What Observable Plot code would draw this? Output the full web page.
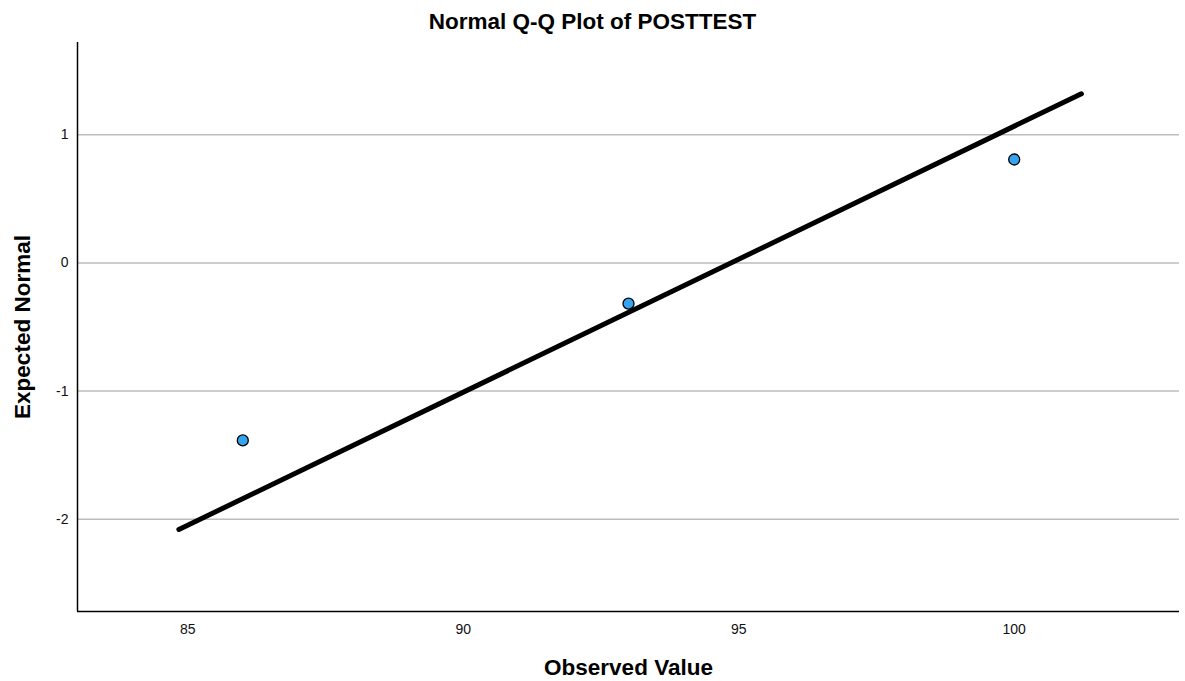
<!DOCTYPE html>
<html>
<head>
<meta charset="utf-8">
<script src="https://cdn.jsdelivr.net/npm/d3@7"></script>
<script src="https://cdn.jsdelivr.net/npm/@observablehq/plot@0.6"></script>
<style>
  body { margin: 0; background: #fff; font-family: "Liberation Sans", Arial, sans-serif; }
  #title { height: 36px; width: 1185px; text-align: center; font-weight: bold; font-size: 22.5px; line-height: 44px; color: #000; overflow: visible; }
  svg { display: block; }
</style>
</head>
<body>
<div id="title">Normal Q-Q Plot of POSTTEST</div>
<div id="chart"></div>
<script>
const observed = [86, 93, 100];
const expected = [-1.385, -0.318, 0.807];
const refX = [84.84, 101.22];
const refY = [-2.08, 1.32];
const xTicks = [85, 90, 95, 100];
const yTicks = [-2, -1, 0, 1];

const pts = observed.map((v, i) => ({x: v, y: expected[i]}));
const ref = refX.map((v, i) => ({x: v, y: refY[i]}));

const chart = Plot.plot({
  width: 1185,
  height: 645,
  marginLeft: 77,
  marginRight: 6,
  marginTop: 6,
  marginBottom: 70,
  style: {fontFamily: "'Liberation Sans', Arial, sans-serif", fontSize: "14px", color: "#111", background: "#fff"},
  x: {domain: [83, 103], ticks: xTicks, tickSize: 0, tickPadding: 13, label: null},
  y: {domain: [-2.72, 1.72], ticks: yTicks, tickSize: 0, tickPadding: 9, label: null},
  marks: [
    Plot.ruleY(yTicks, {stroke: "#bdbdbd", strokeWidth: 1.5}),
    Plot.axisX({ticks: xTicks, tickSize: 0, tickPadding: 13, fontSize: 14, label: null}),
    Plot.axisY({ticks: yTicks, tickSize: 0, tickPadding: 9, fontSize: 14, label: null, tickFormat: d => d < 0 ? "-" + Math.abs(d) : String(d)}),
    Plot.ruleX([83], {stroke: "#000", strokeWidth: 1.5}),
    Plot.ruleY([-2.72], {stroke: "#000", strokeWidth: 1.5}),
    Plot.line(ref, {x: "x", y: "y", stroke: "#000", strokeWidth: 5}),
    Plot.dot(pts, {x: "x", y: "y", r: 5.5, fill: "#34a4f0", stroke: "#000", strokeWidth: 1.3}),
    Plot.text(["Observed Value"], {frameAnchor: "bottom", lineAnchor: "middle", dy: 56, fontSize: 22.5, fontWeight: "bold", fill: "#000"}),
    Plot.text(["Expected Normal"], {frameAnchor: "left", textAnchor: "middle", lineAnchor: "middle", dx: -55, rotate: -90, fontSize: 22.5, fontWeight: "bold", fill: "#000"})
  ]
});
document.getElementById("chart").appendChild(chart);
</script>
</body>
</html>
